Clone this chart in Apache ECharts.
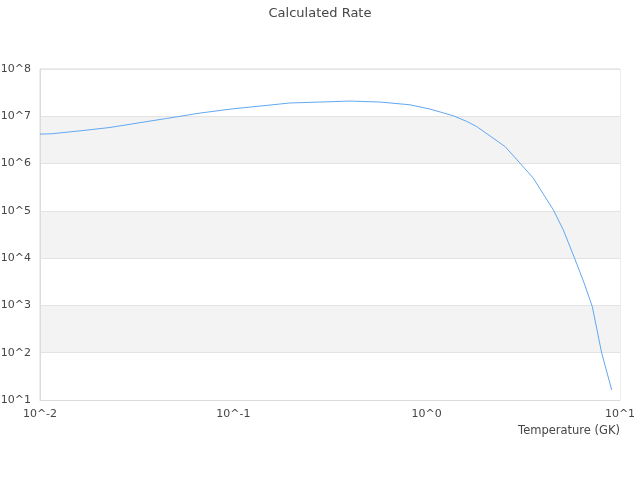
<!DOCTYPE html>
<html>
<head>
<meta charset="utf-8">
<script src="https://cdn.jsdelivr.net/npm/echarts@6/dist/echarts.min.js"></script>
<style>html,body{margin:0;padding:0;background:#fff}#c{width:640px;height:480px}</style>
</head>
<body>
<div id="c"></div>
<script>
var titleText = 'Calculated Rate';
var xName = 'Temperature (GK)';
var temperature = [0.01, 0.0115, 0.0167, 0.023, 0.0303, 0.0452, 0.0673, 0.0996, 0.149, 0.196, 0.281, 0.401, 0.574, 0.82, 1.04, 1.37, 1.61, 1.81, 2.54, 3.04, 3.56, 4.52, 5.09, 5.85, 6.52, 7.19, 8.04, 9.06];
var rate = [4.2e6, 4.27e6, 5.0e6, 5.8e6, 6.95e6, 9.0e6, 1.17e7, 1.44e7, 1.70e7, 1.91e7, 2.0e7, 2.1e7, 2.0e7, 1.75e7, 1.42e7, 1.03e7, 7.8e6, 6.1e6, 2.3e6, 1.02e6, 4.93e5, 1.05e5, 3.96e4, 9.5e3, 2.99e3, 944, 98.6, 16.3];

var pts = temperature.map(function (t, i) { return [t, rate[i]]; });
function fmt(v) { return '10^' + Math.round(Math.log10(v)); }
var FONT = 'DejaVu Sans';

var chart = echarts.init(document.getElementById('c'));
chart.setOption({
  animation: false,
  textStyle: { fontFamily: FONT },
  title: { text: titleText, left: 'center', top: 2, textStyle: { fontSize: 13, fontWeight: 'normal', color: '#464646', fontFamily: FONT } },
  grid: { left: 40, right: 20, top: 69, bottom: 80, show: true, borderColor: '#dcdcdc', borderWidth: 1, containLabel: false, outerBoundsMode: 'none' },
  xAxis: {
    type: 'log', min: 0.01, max: 10, logBase: 10,
    name: xName, nameLocation: 'end', nameGap: 0,
    nameTextStyle: { align: 'right', verticalAlign: 'top', padding: [25, 0, 0, 0], fontSize: 11.5, color: '#464646', fontFamily: FONT },
    axisLine: { lineStyle: { color: '#dcdcdc' } },
    axisTick: { show: false },
    axisLabel: { formatter: fmt, color: '#464646', fontSize: 11, margin: 9, fontFamily: FONT },
    splitLine: { show: false }
  },
  yAxis: {
    type: 'log', min: 10, max: 1e8, logBase: 10,
    axisLine: { show: true, lineStyle: { color: '#dcdcdc' } },
    axisTick: { show: false },
    axisLabel: { formatter: fmt, color: '#464646', fontSize: 11, margin: 9, fontFamily: FONT },
    splitLine: { show: true, lineStyle: { color: '#e3e3e3' } },
    splitArea: { show: true, areaStyle: { color: ['#ffffff', '#f3f3f3'] } }
  },
  series: [{
    type: 'line', data: pts, showSymbol: false, symbol: 'none',
    lineStyle: { color: '#62a8f2', width: 1 }, itemStyle: { color: '#62a8f2' }
  }]
});
</script>
</body>
</html>
